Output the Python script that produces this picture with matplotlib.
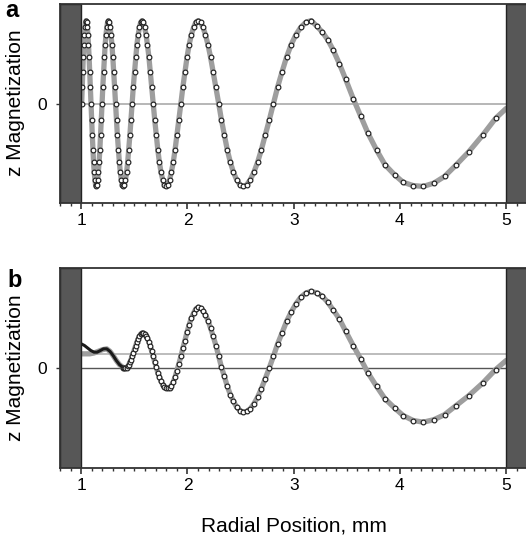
import numpy as np
import matplotlib.pyplot as plt
from matplotlib.patches import Rectangle
from matplotlib.ticker import MultipleLocator

plt.rcParams['font.family'] = ['Liberation Sans', 'DejaVu Sans']

ra = np.array([
    1.004, 1.009, 1.014, 1.019, 1.025, 1.030, 1.035, 1.041, 1.046,
    1.052, 1.057, 1.063, 1.068, 1.074, 1.080, 1.086, 1.092, 1.098, 1.104, 1.110, 1.116, 1.122, 1.129, 1.135, 1.142,
    1.148, 1.155, 1.161, 1.168, 1.175, 1.182, 1.189, 1.196, 1.203, 1.211, 1.218, 1.225, 1.233, 1.241, 1.248, 1.256,
    1.264, 1.272, 1.280, 1.289, 1.297, 1.305, 1.314, 1.323, 1.332, 1.340, 1.350, 1.359, 1.368, 1.377, 1.387, 1.397,
    1.406, 1.416, 1.427, 1.437, 1.447, 1.458, 1.468, 1.479, 1.490, 1.502, 1.513, 1.524, 1.536, 1.548, 1.560, 1.572,
    1.585, 1.597, 1.610, 1.623, 1.637, 1.650, 1.664, 1.678, 1.692, 1.706, 1.721, 1.736, 1.751, 1.767, 1.783, 1.799,
    1.815, 1.832, 1.848, 1.866, 1.883, 1.901, 1.919, 1.938, 1.957, 1.976, 1.996, 2.016, 2.037, 2.058, 2.079, 2.101,
    2.123, 2.146, 2.169, 2.193, 2.217, 2.242, 2.268, 2.294, 2.320, 2.347, 2.375, 2.404, 2.433, 2.463, 2.494, 2.525,
    2.558, 2.591, 2.625, 2.660, 2.695, 2.732, 2.770, 2.809, 2.849, 2.890, 2.933, 2.976, 3.021, 3.067, 3.115, 3.165,
    3.22, 3.27, 3.32, 3.37, 3.43, 3.49, 3.56, 3.63, 3.70, 3.78, 3.86, 3.95, 4.03, 4.125, 4.22, 4.32, 4.42, 4.53,
    4.65, 4.78, 4.90])

# panel a: z magnetization (arbitrary units, 0 = centre line)
ma = np.array([
    0.00, 0.20, 0.38, 0.56, 0.71, 0.83, 0.92, 0.98, 1.00,
    0.98, 0.92, 0.83, 0.71, 0.56, 0.38, 0.20, 0.00, -0.20, -0.38, -0.56, -0.71, -0.83, -0.92, -0.98, -1.00,
    -0.98, -0.92, -0.83, -0.71, -0.56, -0.38, -0.20, 0.00, 0.20, 0.38, 0.56, 0.71, 0.83, 0.92, 0.98, 1.00,
    0.98, 0.92, 0.83, 0.71, 0.56, 0.38, 0.20, 0.00, -0.20, -0.38, -0.56, -0.71, -0.83, -0.92, -0.98, -1.00,
    -0.98, -0.92, -0.83, -0.71, -0.56, -0.38, -0.20, 0.00, 0.20, 0.38, 0.56, 0.71, 0.83, 0.92, 0.98, 1.00,
    0.98, 0.92, 0.83, 0.71, 0.56, 0.38, 0.20, 0.00, -0.20, -0.38, -0.56, -0.71, -0.83, -0.92, -0.98, -1.00,
    -0.98, -0.92, -0.83, -0.71, -0.56, -0.38, -0.20, 0.00, 0.20, 0.38, 0.56, 0.71, 0.83, 0.92, 0.98, 1.00,
    0.98, 0.92, 0.83, 0.71, 0.56, 0.38, 0.20, 0.00, -0.20, -0.38, -0.56, -0.71, -0.83, -0.92, -0.98, -1.00,
    -0.98, -0.92, -0.83, -0.71, -0.56, -0.38, -0.20, 0.00, 0.20, 0.38, 0.56, 0.71, 0.83, 0.92, 0.98, 1.00,
    0.93, 0.86, 0.77, 0.65, 0.48, 0.29, 0.06, -0.15, -0.36, -0.56, -0.74, -0.86, -0.95, -0.99, -1.00, -0.96,
    -0.88, -0.74, -0.58, -0.38, -0.18])

# panel b: markers from 1.4 mm outwards
mb = np.array([
    0.00, 0.00, 0.00, 0.00, 0.02, 0.04, 0.07, 0.10, 0.14, 0.18, 0.23, 0.27, 0.31, 0.35, 0.38, 0.41, 0.42,
    0.42, 0.41, 0.39, 0.36, 0.31, 0.26, 0.20, 0.14, 0.07, 0.01, -0.06, -0.11, -0.16, -0.20, -0.23, -0.24,
    -0.24, -0.24, -0.21, -0.17, -0.11, -0.03, 0.05, 0.14, 0.24, 0.33, 0.43, 0.52, 0.60, 0.66, 0.71, 0.73,
    0.72, 0.69, 0.64, 0.57, 0.48, 0.38, 0.27, 0.14, 0.01, -0.10, -0.22, -0.32, -0.40, -0.47, -0.51, -0.53,
    -0.52, -0.49, -0.43, -0.35, -0.25, -0.13, 0.00, 0.14, 0.29, 0.42, 0.56, 0.67, 0.77, 0.85, 0.90, 0.92,
    0.90, 0.86, 0.79, 0.70, 0.59, 0.44, 0.27, 0.11, -0.06, -0.22, -0.37, -0.48, -0.57, -0.63, -0.65, -0.62,
    -0.56, -0.45, -0.33, -0.18, -0.02])
rb = ra[ra > 1.39]

# fitted curves run on to the outer wall
wall_r = 5.0
wall_ma = -0.06
wall_mb = 0.09

# panel b, near the inner wall: dark measured trace and grey fit
lead_r = [1.00, 1.03, 1.06, 1.09, 1.12, 1.15, 1.18, 1.21, 1.24, 1.27, 1.30, 1.33, 1.36, 1.39]
lead_m = [0.29, 0.27, 0.24, 0.21, 0.19, 0.19, 0.21, 0.23, 0.23, 0.20, 0.15, 0.09, 0.04, 0.01]
fit_r = [1.00, 1.04, 1.08, 1.12, 1.16, 1.20, 1.24]
fit_m = [0.17, 0.17, 0.17, 0.18, 0.20, 0.22, 0.23]
level_b = 0.17

fig = plt.figure(figsize=(5.26, 5.41), dpi=100)
ax_a = fig.add_axes([60/526, 338/541, 466/526, 199/541])
ax_b = fig.add_axes([60/526, 73/541, 466/526, 200/541])


def frame(ax):
    ax.set_xlim(0.8, 5.187)
    ax.set_ylim(-1.2, 1.2)
    ax.add_patch(Rectangle((0.8, -1.2), 0.2, 2.4, fc='#575757', ec='#222222', lw=1, zorder=4))
    ax.add_patch(Rectangle((5.0, -1.2), 0.3, 2.4, fc='#575757', ec='#222222', lw=1, zorder=4))
    ax.spines['right'].set_visible(False)
    for s in ['top', 'bottom', 'left']:
        ax.spines[s].set_color('#333333')
        ax.spines[s].set_linewidth(1.3)
        ax.spines[s].set_zorder(6)
    ax.set_xticks([1, 2, 3, 4, 5])
    ax.xaxis.set_minor_locator(MultipleLocator(0.1))
    ax.set_yticks([0])
    ax.tick_params(axis='x', which='major', length=4.5, width=1.2, pad=2.5, labelsize=12.5, color='#333333')
    ax.tick_params(axis='x', which='minor', length=2.3, width=1.0, color='#333333')
    ax.tick_params(axis='y', length=3, width=1.0, pad=6, labelsize=12.5, color='#333333')


frame(ax_a)
ax_a.axhline(0, color='#aaaaaa', lw=1.2, zorder=1)
ax_a.plot(np.append(ra, wall_r), np.append(ma, wall_ma), color='#9e9e9e', lw=3.8,
          solid_capstyle='round', zorder=2)
ax_a.plot(ra, ma, 'o', ms=3.4, mfc='white', mec='#222222', mew=0.85, zorder=3)

frame(ax_b)
ax_b.axhline(0, color='#555555', lw=1.0, zorder=1)
ax_b.axhline(level_b, color='#b0b0b0', lw=1.2, zorder=1)
ax_b.plot(np.concatenate([fit_r, lead_r[9:], rb, [wall_r]]),
          np.concatenate([fit_m, lead_m[9:], mb, [wall_mb]]),
          color='#9e9e9e', lw=3.8, solid_capstyle='round', zorder=2)
ax_b.plot(lead_r, lead_m, color='#1a1a1a', lw=2.2, zorder=3)
ax_b.plot(rb, mb, 'o', ms=3.4, mfc='white', mec='#222222', mew=0.85, zorder=3)

fig.text(16/526, 1 - 103/541, 'z Magnetization', rotation=90, ha='center', va='center', fontsize=15)
fig.text(16/526, 1 - 368/541, 'z Magnetization', rotation=90, ha='center', va='center', fontsize=15)
fig.text(5/526, 1 - 17/541, 'a', ha='left', va='baseline', fontsize=17, fontweight='bold')
fig.text(7/526, 1 - 287/541, 'b', ha='left', va='baseline', fontsize=17, fontweight='bold')
fig.text(294/526, 1 - 532/541, 'Radial Position, mm', ha='center', va='baseline', fontsize=15)

fig.savefig('out.png', dpi=100)
